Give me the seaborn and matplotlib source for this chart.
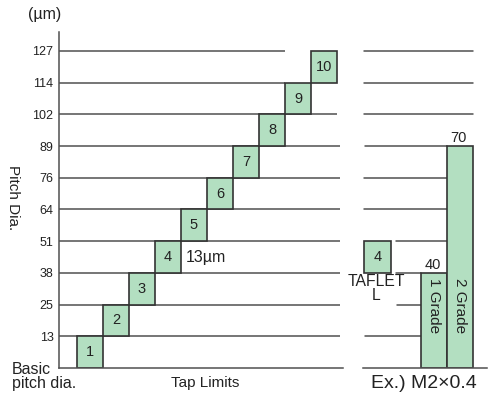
import numpy as np
import matplotlib
matplotlib.use("Agg")
import matplotlib.pyplot as plt
import seaborn as sns
from matplotlib.patches import Rectangle
from matplotlib.transforms import blended_transform_factory

# ---- data -------------------------------------------------------------
tap_limits = ["1", "2", "3", "4", "5", "6", "7", "8", "9", "10"]
lower_um = [0.0, 12.7, 25.4, 38.1, 50.8, 63.5, 76.2, 88.9, 101.6, 114.3]
upper_um = [12.7, 25.4, 38.1, 50.8, 63.5, 76.2, 88.9, 101.6, 114.3, 127.0]
tick_labels = ["13", "25", "38", "51", "64", "76", "89", "102", "114", "127"]

grades = ["1 Grade", "2 Grade"]
grade_um = [40, 70]
taflet_limit = "4"
taflet_lower_um = 38.1
taflet_upper_um = 50.8

# ---- style ------------------------------------------------------------
sns.set_theme(style="white")
plt.rcParams["font.family"] = ["Liberation Sans", "DejaVu Sans"]

GREEN = "#b3dfc1"
EDGE = "#333333"
LINE = "#505050"
TXT = "#222222"

W, H = 493, 394
fig = plt.figure(figsize=(W / 100, H / 100), dpi=100)
fig.patch.set_facecolor("white")

ax = fig.add_axes([59 / W, 26 / H, 284 / W, 336 / H])
ax_r = fig.add_axes([363 / W, 26 / H, 124 / W, 336 / H])

# ---- left panel: stepped tap limits -----------------------------------
xmin, xmax = -0.69, 10.23
ymax = 134.6
line_ends = [10.1, 10.1, 10.1, 10.1, 10.1, 10.1, 10.1, 10.0, 8.0, 8.0]
ax.hlines(upper_um, xmin, line_ends, color=LINE, lw=1.1, zorder=1)

pos = np.arange(len(tap_limits))
ax.bar(pos, np.subtract(upper_um, lower_um), bottom=lower_um, width=1,
       align="edge", color=GREEN, edgecolor=EDGE, linewidth=1.2, zorder=2)
for i, (lab, lo, hi) in enumerate(zip(tap_limits, lower_um, upper_um)):
    ax.text(i + 0.5, (lo + hi) / 2, lab, ha="center", va="center",
            fontsize=10.5, color=TXT, zorder=3)

ax.text(4.2, (lower_um[3] + upper_um[3]) / 2, "13µm", ha="left",
        va="center", fontsize=11.5, color=TXT)

ax.set_xlim(xmin, xmax)
ax.set_ylim(0, ymax)
ax.set_xticks([])
ax.set_yticks(upper_um, tick_labels)
ax.tick_params(axis="y", length=0, pad=4, labelsize=9, labelcolor=TXT)
for s in ("top", "right"):
    ax.spines[s].set_visible(False)
for s in ("left", "bottom"):
    ax.spines[s].set_color(LINE)
    ax.spines[s].set_linewidth(1.1)

# ---- right panel: grade example ---------------------------------------
scale_vals = [-100.0, 0.0, 40.0, 70.0, 200.0]
scale_pos = [-95.25, 0.0, 38.1, 88.9, 309.0]


def fwd(v):
    return np.interp(v, scale_vals, scale_pos)


def inv(p):
    return np.interp(p, scale_pos, scale_vals)


ax_r.set_yscale("function", functions=(fwd, inv))
yref = blended_transform_factory(ax_r.transData, ax.transData)

r_starts = [-2.65, -1.42, -1.46, -1.46, -2.69, -2.7, -2.65, -2.69, -2.69, -2.69]
r_ends = [-0.5, -0.5, -0.5, 0.5, 0.5, 0.5, 0.5, 1.5, 1.5, 1.5]
for y, x0, x1 in zip(upper_um, r_starts, r_ends):
    ax_r.plot([x0, x1], [y, y], color=LINE, lw=1.1, transform=yref, zorder=1)

sns.barplot(x=grades, y=grade_um, ax=ax_r, color=GREEN, saturation=1,
            width=1, edgecolor=EDGE, linewidth=1.2, errorbar=None, zorder=2)
for i, (g, v) in enumerate(zip(grades, grade_um)):
    ax_r.annotate(str(v), (i, v), xytext=(-1, 0.5), textcoords="offset points",
                  ha="center", va="bottom", fontsize=10.5, color=TXT)
    ax_r.text(i, 36.0, g, rotation=270, ha="center", va="top",
              fontsize=11, color=TXT, transform=yref)

ax_r.add_patch(Rectangle((-2.69, taflet_lower_um), 1.04,
                         taflet_upper_um - taflet_lower_um, transform=yref,
                         facecolor=GREEN, edgecolor=EDGE, linewidth=1.2,
                         zorder=2))
ax_r.text(-2.17, (taflet_lower_um + taflet_upper_um) / 2, taflet_limit,
          ha="center", va="center", fontsize=10.5, color=TXT, transform=yref)
ax_r.text(-2.23, 37.5, "TAFLET\nL", ha="center", va="top",
          multialignment="center", fontsize=11.3, linespacing=0.9,
          color=TXT, transform=yref)

ax_r.set_xlim(-2.731, 2.038)
ax_r.set_ylim(0, float(inv(ymax)))
ax_r.set_xticks([])
ax_r.set_yticks([])
ax_r.set_xlabel("")
ax_r.set_ylabel("")
ax_r.minorticks_off()
for s in ("top", "right", "left"):
    ax_r.spines[s].set_visible(False)
ax_r.spines["bottom"].set_color(LINE)
ax_r.spines["bottom"].set_linewidth(1.1)
ax_r.patch.set_alpha(0)

# ---- surrounding captions ---------------------------------------------
fig.text(45 / W, 1 - 15 / H, "(µm)", ha="center", va="center",
         fontsize=11.5, color=TXT)
fig.text(13 / W, 1 - 198 / H, "Pitch Dia.", rotation=270, ha="center",
         va="center", fontsize=11, color=TXT)
fig.text(12 / W, 1 - 362 / H, "Basic\npitch dia.", ha="left", va="top",
         fontsize=11.5, linespacing=0.9, color=TXT)
fig.text(205 / W, 1 - 383 / H, "Tap Limits", ha="center", va="center",
         fontsize=11, color=TXT)
fig.text(424 / W, 1 - 384 / H, "Ex.) M2×0.4", ha="center", va="center",
         fontsize=14, color=TXT)

fig.savefig("out.png", dpi=100, facecolor="white")
